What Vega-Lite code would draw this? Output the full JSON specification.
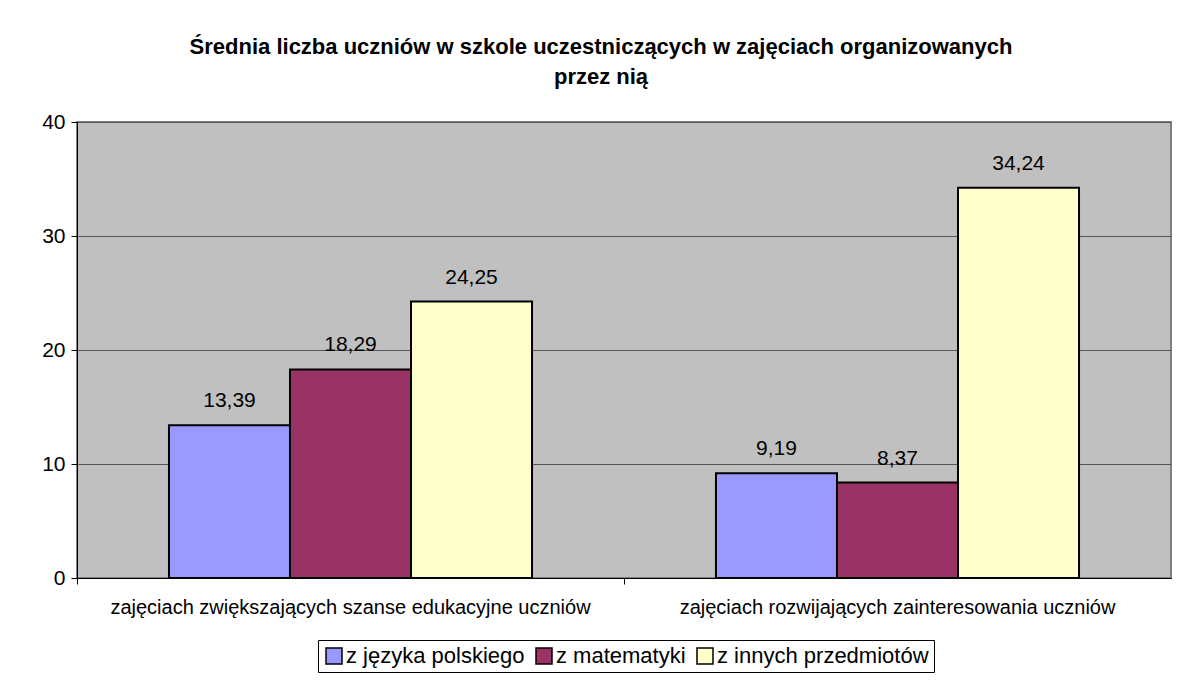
{
  "$schema": "https://vega.github.io/schema/vega-lite/v6.json",
  "width": 1094,
  "height": 456,
  "autosize": {"type": "none"},
  "padding": {"left": 77, "top": 122, "right": 7, "bottom": 106},
  "background": "white",
  "config": {
    "locale": {"number": {"decimal": ",", "thousands": " ", "grouping": [3], "currency": ["", " zł"]}},
    "view": {"fill": "#C0C0C0", "stroke": "#808080", "strokeWidth": 2},
    "font": "Liberation Sans"
  },
  "title": {
    "text": ["Średnia liczba uczniów w szkole uczestniczących w zajęciach organizowanych", "przez nią"],
    "font": "Liberation Sans",
    "fontSize": 22,
    "fontWeight": "bold",
    "lineHeight": 30,
    "offset": 22,
    "dx": -23,
    "anchor": "middle",
    "frame": "group",
    "color": "black"
  },
  "data": {
    "values": [
      {"kategoria": "zajęciach zwiększających szanse edukacyjne uczniów", "przedmiot": "z języka polskiego", "wartosc": 13.39},
      {"kategoria": "zajęciach zwiększających szanse edukacyjne uczniów", "przedmiot": "z matematyki", "wartosc": 18.29},
      {"kategoria": "zajęciach zwiększających szanse edukacyjne uczniów", "przedmiot": "z innych przedmiotów", "wartosc": 24.25},
      {"kategoria": "zajęciach rozwijających zainteresowania uczniów", "przedmiot": "z języka polskiego", "wartosc": 9.19},
      {"kategoria": "zajęciach rozwijających zainteresowania uczniów", "przedmiot": "z matematyki", "wartosc": 8.37},
      {"kategoria": "zajęciach rozwijających zainteresowania uczniów", "przedmiot": "z innych przedmiotów", "wartosc": 34.24}
    ]
  },
  "encoding": {
    "x": {
      "field": "kategoria",
      "type": "nominal",
      "sort": null,
      "title": null,
      "scale": {"paddingInner": 0, "paddingOuter": 0},
      "axis": {
        "labelAngle": 0,
        "labelFontSize": 20,
        "labelColor": "black",
        "labelPadding": 13,
        "domainColor": "black",
        "domainWidth": 1,
        "tickColor": "black",
        "tickSize": 6,
        "bandPosition": 0,
        "labelLimit": 600
      }
    },
    "xOffset": {
      "field": "przedmiot",
      "type": "nominal",
      "sort": null,
      "scale": {"paddingOuter": 0.76, "paddingInner": 0}
    },
    "y": {
      "field": "wartosc",
      "type": "quantitative",
      "title": null,
      "scale": {"domain": [0, 40], "nice": false},
      "axis": {
        "values": [0, 10, 20, 30, 40],
        "labelFontSize": 21,
        "labelColor": "black",
        "labelPadding": 6,
        "domainColor": "black",
        "domainWidth": 1,
        "tickColor": "black",
        "tickSize": 6,
        "grid": true,
        "gridColor": "#555555",
        "gridWidth": 1,
        "gridOpacity": 1
      }
    }
  },
  "layer": [
    {
      "mark": {"type": "bar", "stroke": "black", "strokeWidth": 2},
      "encoding": {
        "color": {
          "field": "przedmiot",
          "type": "nominal",
          "sort": null,
          "title": null,
          "scale": {
            "domain": ["z języka polskiego", "z matematyki", "z innych przedmiotów"],
            "range": ["#9999FF", "#993366", "#FFFFCC"]
          },
          "legend": {
            "orient": "none",
            "direction": "horizontal",
            "legendX": 241,
            "legendY": 518,
            "symbolType": "square",
            "symbolSize": 256,
            "symbolStrokeColor": "black",
            "symbolStrokeWidth": 1.5,
            "symbolOpacity": 1,
            "labelFontSize": 22,
            "labelColor": "black",
            "labelOffset": 1,
            "columnPadding": 8,
            "padding": 5,
            "strokeColor": "black",
            "fillColor": "white",
            "labelLimit": 400
          }
        }
      }
    },
    {
      "mark": {"type": "text", "baseline": "bottom", "dy": -14, "fontSize": 21, "color": "black"},
      "encoding": {
        "text": {"field": "wartosc", "type": "quantitative", "format": ".2f"}
      }
    }
  ]
}
